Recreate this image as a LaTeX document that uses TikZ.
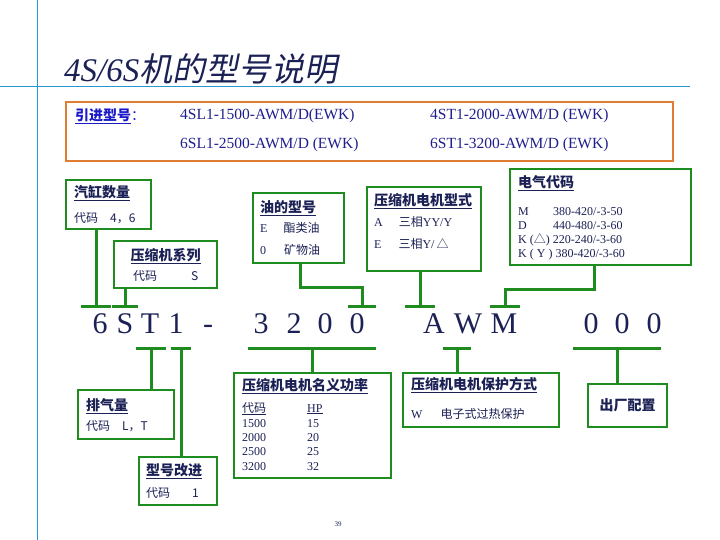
\documentclass[tikz,border=0pt]{standalone}
\usepackage{fontspec}
\setmainfont{Liberation Serif}
\newfontfamily\cjk{Noto Sans CJK SC}
\newfontfamily\cjksl[FakeSlant=0.2]{Noto Sans CJK SC}
\usetikzlibrary{positioning}

\definecolor{navy}{RGB}{27,33,85}
\definecolor{modelblue}{RGB}{30,30,140}
\definecolor{linkblue}{RGB}{25,25,200}
\definecolor{boxgreen}{RGB}{30,140,30}
\definecolor{orangebox}{RGB}{225,125,50}
\definecolor{slideblue}{RGB}{40,150,210}

\newcommand{\zh}[1]{{\cjk #1}}
\newcommand{\ttl}[1]{{\fontsize{14}{14}\selectfont\cjk\bfseries\underline{#1}}}

\begin{document}
\begin{tikzpicture}[
    x=1pt, y=-1pt,
    gbox/.style={draw=boxgreen, line width=2.2pt, fill=white, anchor=north west, inner sep=0pt},
    btxt/.style={align=left, inner sep=0pt, anchor=north west, text=navy, font=\fontsize{12}{14}\selectfont},
    link/.style={draw=boxgreen, line width=3pt},
    bar/.style={draw=boxgreen, line width=3pt},
    codechar/.style={text=navy, font=\fontsize{30}{30}\selectfont, inner sep=0pt, anchor=base},
    model/.style={anchor=west, text=modelblue, font=\fontsize{15.5}{15.5}\selectfont, inner sep=0pt},
    slideline/.style={draw=slideblue, line width=0.8pt}
]
    \useasboundingbox (0,0) rectangle (720,540);

    % Slide frame
    \draw[slideline] (0,86) -- (690,86);
    \draw[slideline] (37,0) -- (37,540);
    \node[anchor=west, inner sep=0pt, text=navy, font=\fontsize{33}{33}\selectfont] (title) at (64,69)
        {\textit{4S/6S}{\cjksl 机的型号说明}};

    % Imported models
    \node[draw=orangebox, line width=2pt, anchor=north west, minimum width=607, minimum height=59] (intro) at (65,101) {};
    \node[anchor=west, inner sep=0pt, text=linkblue, font=\fontsize{14}{14}\selectfont] (introlabel) at (75,116)
        {\underline{\zh{\bfseries 引进型号}}\zh{：}};
    \node[model] (m1) at (180,116) {4SL1-1500-AWM/D(EWK)};
    \node[model] (m2) at (430,116) {4ST1-2000-AWM/D (EWK)};
    \node[model] (m3) at (180,145) {6SL1-2500-AWM/D (EWK)};
    \node[model] (m4) at (430,145) {6ST1-3200-AWM/D (EWK)};

    % Model code
    \foreach \ch/\xx [count=\i] in {6/100, S/125, T/150, 1/176, -/208, 3/261, 2/294, 0/325, 0/357, A/434, W/468, M/504, 0/591, 0/622, 0/654}
        \node[codechar] (c\i) at (\xx,333) {\ch};

    % Boxes above the code
    \node[gbox, minimum width=85, minimum height=49] (cyl) at (65,179) {};
    \node[btxt, below right=6pt and 9pt of cyl.north west] (cylt)
        {\ttl{汽缸数量}\\[11pt]\zh{代码\quad 4，6}};

    \node[gbox, minimum width=103, minimum height=47] (ser) at (113,240) {};
    \node[btxt, align=center, below=8pt of ser.north] (sert)
        {\ttl{压缩机系列}\\[6pt]\zh{代码}\hspace{34pt}\zh{S}};

    \node[gbox, minimum width=91, minimum height=70] (oil) at (252,192) {};
    \node[btxt, below right=8pt and 8pt of oil.north west] (oilt)
        {\ttl{油的型号}\\[6pt]E\hspace{16pt}\zh{酯类油}\\[8pt]0\hspace{18pt}\zh{矿物油}};

    \node[gbox, minimum width=114, minimum height=84] (mtype) at (366,186) {};
    \node[btxt, below right=7pt and 8pt of mtype.north west] (mtypet)
        {\ttl{压缩机电机型式}\\[7pt]A\hspace{16pt}\zh{三相}YY/Y\\[8pt]E\hspace{17pt}\zh{三相}Y/\,\zh{△}};

    \node[gbox, minimum width=181, minimum height=96] (elec) at (509,168) {};
    \node[btxt, below right=7pt and 9pt of elec.north west] (elect)
        {\ttl{电气代码}\\[14pt]
         \makebox[35pt][l]{M}380-420/-3-50\\
         \makebox[35pt][l]{D}440-480/-3-60\\
         K\ (\zh{△})\ 220-240/-3-60\\
         K\ (\ Y\ )\ 380-420/-3-60};

    % Boxes below the code
    \node[gbox, minimum width=96, minimum height=49] (disp) at (77,389) {};
    \node[btxt, below right=9pt and 9pt of disp.north west] (dispt)
        {\ttl{排气量}\\[6pt]\zh{代码\hspace{12pt}L，T}};

    \node[gbox, minimum width=78, minimum height=48] (rev) at (138,456) {};
    \node[btxt, below right=7pt and 8pt of rev.north west] (revt)
        {\ttl{型号改进}\\[8pt]\zh{代码\hspace{22pt}1}};

    \node[gbox, minimum width=157, minimum height=105] (power) at (233,372) {};
    \node[btxt, below right=6pt and 9pt of power.north west] (powert)
        {\ttl{压缩机电机名义功率}\\[8pt]
         \makebox[65pt][l]{\underline{\zh{代码}}}\underline{HP}\\[1pt]
         \makebox[65pt][l]{1500}15\\
         \makebox[65pt][l]{2000}20\\
         \makebox[65pt][l]{2500}25\\[1pt]
         \makebox[65pt][l]{3200}32};

    \node[gbox, minimum width=156, minimum height=54] (prot) at (402,372) {};
    \node[btxt, below right=5pt and 9pt of prot.north west] (prott)
        {\ttl{压缩机电机保护方式}\\[15pt]W\hspace{18pt}\zh{电子式过热保护}};

    \node[gbox, minimum width=79, minimum height=43, text=navy,
          font=\fontsize{14}{14}\selectfont\cjk\bfseries] (fac) at (587,383) {出厂配置};

    % Connectors above
    \coordinate (u1) at (96,306);
    \coordinate (u2) at (125,306);
    \coordinate (u3) at (362,306);
    \coordinate (u4) at (420,306);
    \coordinate (u5) at (505,306);
    \coordinate (k3) at (362,287);
    \coordinate (k5) at (505,289);
    \draw[link] (cyl.south -| u1) -- (u1);
    \draw[link] (ser.south -| u2) -- (u2);
    \draw[link] ([xshift=2]oil.south) |- (k3) -- (u3);
    \draw[link] (mtype.south -| u4) -- (u4);
    \draw[link] ([xshift=-6]elec.south) |- (k5) -- (u5);

    % Connectors below
    \coordinate (d1) at (151,348);
    \coordinate (d2) at (181,348);
    \coordinate (d3) at (312,348);
    \coordinate (d4) at (457,348);
    \coordinate (d5) at (617,348);
    \draw[link] (d1) -- (d1 |- disp.north);
    \draw[link] (d2) -- (d2 |- rev.north);
    \draw[link] (d3) -- (d3 |- power.north);
    \draw[link] (d4) -- (d4 |- prot.north);
    \draw[link] (d5) -- (d5 |- fac.north);

    % Bars
    \foreach \c/\w in {u1/15, u2/13, u3/14, u4/15, u5/15, d1/15, d2/10, d3/64, d4/14, d5/44}
        \draw[bar] ([xshift=-\w]\c) -- ([xshift=\w]\c);

    \node[text=navy, font=\fontsize{7}{7}\selectfont, inner sep=0pt] (page) at (338,524) {39};
\end{tikzpicture}
\end{document}
